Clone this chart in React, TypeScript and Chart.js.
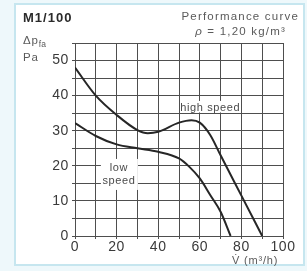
import React, { useEffect, useRef } from 'react';
import { Chart, registerables } from 'chart.js';

Chart.register(...registerables);

// Volume flow (m³/h) and static pressure (Pa)
const highSpeedFlow = [0, 10, 20, 30, 35, 40, 50, 56, 60, 65, 70, 80, 90];
const highSpeedPressure = [48, 40, 34.5, 30.2, 29.3, 29.7, 32.3, 33, 32.3, 28.8, 23, 11.5, 0];
const lowSpeedFlow = [0, 10, 20, 30, 40, 50, 55, 60, 65, 70, 74.8];
const lowSpeedPressure = [32.2, 28.5, 26.1, 25, 24, 22.1, 19.7, 16.4, 11.7, 6.9, 0];

const xMin = 0;
const xMax = 100;
const xStep = 10;
const xLabelEvery = 20;
const yMin = 0;
const yMax = 55;
const yStep = 5;
const yLabelEvery = 10;

const TICK_FONT = { family: "'Liberation Sans', Arial, sans-serif", size: 14 };
const GRID = '#4e4e4e';

const curveLabels = {
  id: 'curveLabels',
  beforeDatasetsDraw(chart: any) {
    const { ctx, scales } = chart;
    const x = scales.x;
    const y = scales.y;
    ctx.save();
    ctx.font = "11px 'Liberation Sans', Arial, sans-serif";
    ctx.fillStyle = '#ffffff';
    ctx.textAlign = 'center';
    ctx.textBaseline = 'middle';
    // high speed
    const hx = x.getPixelForValue(65);
    const hy = y.getPixelForValue(36.5);
    ctx.fillRect(hx - 30, hy - 7, 60, 11.5);
    // low speed
    const lx = x.getPixelForValue(21.1);
    const ly = y.getPixelForValue(17.4);
    ctx.fillRect(lx - 18, ly - 16, 37, 31);
    ctx.fillStyle = '#4a4a4a';
    ctx.fillText('high speed', hx, hy);
    ctx.fillText('low', lx, ly - 7);
    ctx.fillText('speed', lx, ly + 6);
    ctx.restore();
  },
  beforeDraw(chart: any) {
    try {
      (chart.ctx as any).letterSpacing = '0.6px';
    } catch (e) {}
  },
};

export default function App() {
  const ref = useRef<HTMLCanvasElement>(null);

  useEffect(() => {
    if (!ref.current) return;
    const chart = new Chart(ref.current, {
      type: 'scatter',
      data: {
        datasets: [
          {
            label: 'high speed',
            data: highSpeedFlow.map((v, i) => ({ x: v, y: highSpeedPressure[i] })),
            showLine: true,
            borderColor: '#262626',
            borderWidth: 2,
            pointRadius: 0,
            cubicInterpolationMode: 'monotone',
            fill: false,
          },
          {
            label: 'low speed',
            data: lowSpeedFlow.map((v, i) => ({ x: v, y: lowSpeedPressure[i] })),
            showLine: true,
            borderColor: '#262626',
            borderWidth: 2,
            pointRadius: 0,
            cubicInterpolationMode: 'monotone',
            fill: false,
          },
        ],
      },
      options: {
        responsive: false,
        animation: false,
        devicePixelRatio: 1,
        layout: { padding: { top: 43, right: 24, left: 0, bottom: 0 } },
        plugins: { legend: { display: false }, tooltip: { enabled: false } },
        scales: {
          x: {
            type: 'linear',
            min: xMin,
            max: xMax,
            afterFit: (s: any) => {
              s.height = 35;
            },
            ticks: {
              stepSize: xStep,
              autoSkip: false,
              maxRotation: 0,
              padding: 0,
              color: '#3a3a3a',
              font: TICK_FONT,
              callback: (v: any) => (Number(v) % xLabelEvery === 0 ? String(v) : ''),
            },
            grid: { color: GRID, lineWidth: 1, tickLength: 3 },
            border: { color: GRID, width: 1 },
          },
          y: {
            type: 'linear',
            min: yMin,
            max: yMax,
            afterFit: (s: any) => {
              s.width = 75;
            },
            ticks: {
              stepSize: yStep,
              autoSkip: false,
              padding: 3,
              color: '#3a3a3a',
              font: TICK_FONT,
              callback: (v: any) => (Number(v) % yLabelEvery === 0 ? String(v) : ''),
            },
            grid: { color: GRID, lineWidth: 1, tickLength: 3 },
            border: { color: GRID, width: 1 },
          },
        },
      },
      plugins: [curveLabels],
    } as any);
    return () => chart.destroy();
  }, []);

  const sans = "'Liberation Sans', Arial, sans-serif";
  const gray = '#5a5a5a';

  return (
    <div style={{ position: 'relative', width: 307, height: 271, background: '#eef8fb', overflow: 'hidden', fontFamily: sans }}>
      <style>{'body{margin:0}'}</style>
      <div
        style={{
          position: 'absolute',
          left: 14,
          top: 3,
          width: 287,
          height: 259,
          background: '#ffffff',
          border: '2px solid #c6e6ef',
        }}
      />
      <canvas ref={ref} width={307} height={271} style={{ position: 'absolute', left: 0, top: 0, width: 307, height: 271 }} />
      <div style={{ position: 'absolute', left: 23, top: 11, fontSize: 13, lineHeight: '13px', fontWeight: 'bold', letterSpacing: 1, color: '#2a2a2a' }}>
        M1/100
      </div>
      <div style={{ position: 'absolute', right: 8, top: 10, fontSize: 11.5, lineHeight: '12px', letterSpacing: 1.2, color: gray, whiteSpace: 'nowrap' }}>
        Performance curve
      </div>
      <div style={{ position: 'absolute', right: 21, top: 25, fontSize: 11.5, lineHeight: '12px', letterSpacing: 1.2, color: gray, whiteSpace: 'nowrap' }}>
        <i>ρ</i> = 1,20 kg/m³
      </div>
      <div style={{ position: 'absolute', left: 23, top: 34, fontSize: 11.5, lineHeight: '12px', letterSpacing: 0.8, color: gray, whiteSpace: 'nowrap' }}>
        Δp<sub style={{ fontSize: 8.5, verticalAlign: '-3px', letterSpacing: 0.3 }}>fa</sub>
      </div>
      <div style={{ position: 'absolute', left: 23, top: 51, fontSize: 11.5, lineHeight: '12px', letterSpacing: 0.8, color: gray }}>
        Pa
      </div>
      <div style={{ position: 'absolute', left: 232, top: 254, fontSize: 11, lineHeight: '12px', letterSpacing: 0.8, color: gray, whiteSpace: 'nowrap' }}>
        V̇ (m³/h)
      </div>
    </div>
  );
}
